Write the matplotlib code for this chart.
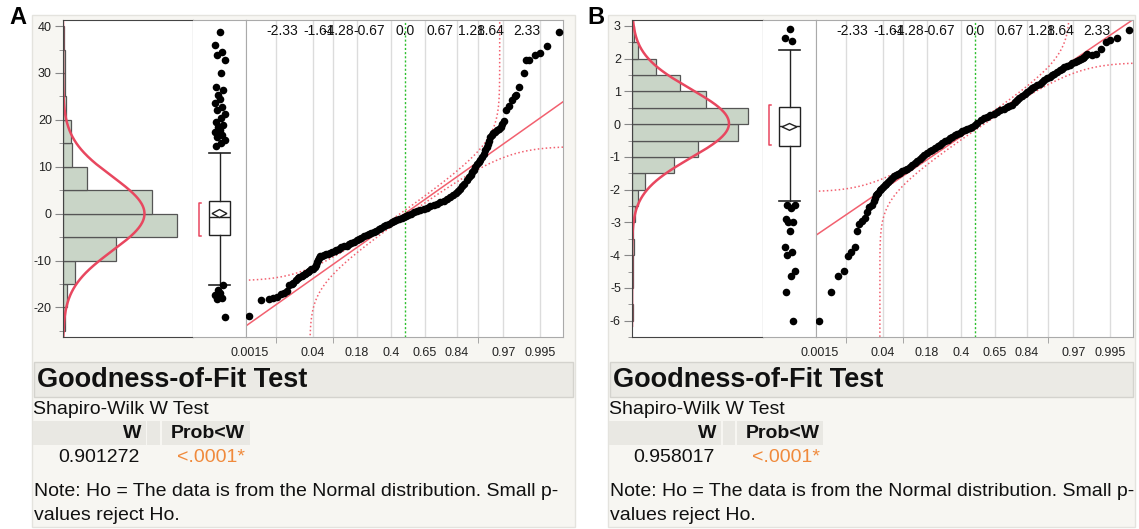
import numpy as np
import matplotlib
matplotlib.use("Agg")
import matplotlib.pyplot as plt
from matplotlib.patches import Rectangle, Polygon
from statistics import NormalDist

plt.rcParams['font.family'] = ['Liberation Sans', 'DejaVu Sans']
plt.rcParams['axes.unicode_minus'] = False

W, H = 1139, 529

# ---------------- panel A data ----------------
a_edges = [-25, -20, -15, -10, -5, 0, 5, 10, 15, 20, 25, 30, 35, 40]
a_counts = [3, 6, 18, 80, 171, 133, 36, 13, 12, 5, 3, 3, 1]
a_ylim = (-26.3, 41.3)
a_yticks = [-20, -10, 0, 10, 20, 30, 40]
a_mean, a_sd = 0.0, 7.9
a_box = [-4.6, -0.8, 2.7, -15.3, 13.0]          # q1, median, q3, whisker lo, whisker hi
a_mean_ci = [0.03, 0.85]
a_short_half = [-4.83, 2.35]
a_outliers = [38.7, 35.9, 34.5, 33.8, 32.8, 29.9, 27.1, 26.4, 25.2, 24.5, 23.5, 22.7,
              22.2, 21.3, 20.3, 19.5, 19.0, 18.5, 17.9, 17.4, 16.8, 16.3, 15.8, 15.1,
              14.4, -15.3, -16.3, -16.9, -17.4, -17.9, -18.3, -22.0]
# normal quantile (x) and value (y) of the points
a_qz = [-2.97, -2.75, -2.60, -2.52, -2.44, -2.37, -2.31, -2.25, -2.20, -2.16, -2.13,
        -2.07, -2.04, -2.01, -1.97, -1.94, -1.91, -1.88, -1.85, -1.82, -1.78, -1.75,
        -1.72, -1.70, -1.68, -1.66, -1.63, -1.61, -1.58, -1.55, -1.50, -1.46, -1.42,
        -1.38, -1.34, -1.31, -1.26, -1.21, -1.16, -1.11, -1.06, -1.02, -0.97, -0.92,
        -0.88, -0.83, -0.78, -0.73, -0.69, -0.64, -0.59, -0.54, -0.50, -0.45, -0.40,
        -0.35, -0.30, -0.25, -0.21, -0.16, -0.11, -0.06, -0.02, 0.02, 0.06, 0.11,
        0.17, 0.24, 0.30, 0.36, 0.42, 0.49, 0.55, 0.62, 0.68, 0.75, 0.81, 0.87, 0.92,
        0.97, 1.02, 1.06, 1.10, 1.14, 1.18, 1.22, 1.26, 1.29, 1.32, 1.35, 1.38, 1.41,
        1.44, 1.48, 1.51, 1.54, 1.57, 1.59, 1.61, 1.63, 1.66, 1.69, 1.72, 1.76, 1.80,
        1.83, 1.86, 1.89, 1.94, 1.99, 2.05, 2.10, 2.13, 2.18, 2.27, 2.32, 2.37, 2.48,
        2.58, 2.71, 2.94]
a_qy = [-21.9, -18.5, -18.3, -17.9, -17.8, -17.2, -16.9, -16.5, -15.3, -15.0, -14.8,
        -14.1, -13.8, -13.5, -13.3, -13.1, -12.9, -12.7, -12.4, -12.2, -11.9, -11.7,
        -11.3, -11.0, -10.4, -9.8, -9.4, -9.1, -9.0, -8.9, -8.7, -8.5, -8.35,
        -8.2, -8.0, -7.8, -7.5, -7.2, -7.0, -6.8, -6.55, -6.3, -6.0, -5.7,
        -5.4, -5.1, -4.85, -4.6, -4.35, -4.1, -3.85, -3.6, -3.3, -3.0, -2.7,
        -2.4, -2.1, -1.8, -1.55, -1.3, -1.1, -0.9, -0.75, -0.6, -0.3, 0.0,
        0.3, 0.57, 0.8, 1.07, 1.3, 1.6, 1.85, 2.1, 2.4, 2.8, 3.2, 3.6, 4.0,
        4.4, 4.85, 5.3, 5.8, 6.4, 7.1, 7.8, 8.3, 8.9, 9.4, 10.0, 10.5, 11.0,
        11.5, 12.1, 12.8, 13.5, 14.2, 14.9, 15.6, 16.3, 16.7, 17.1, 17.4, 17.8, 18.1,
        18.5, 19.1, 19.8, 22.2, 22.9, 24.2, 25.0, 25.3, 27.0, 29.9, 32.7, 32.7, 33.9,
        34.3, 35.8, 38.7]
a_w = "0.901272"
a_p = "<.0001*"

# ---------------- panel B data ----------------
b_edges = [-6, -5.5, -5, -4.5, -4, -3.5, -3, -2.5, -2, -1.5, -1, -0.5, 0, 0.5, 1, 1.5,
           2, 2.5, 3]
b_counts = [1, 0, 1, 2, 3, 1, 4, 9, 20, 62, 98, 158, 172, 110, 71, 36, 9, 3]
b_ylim = (-6.16, 3.18)
b_yticks = [-6, -5, -4, -3, -2, -1, 0, 1, 2, 3]
b_mean, b_sd = 0.02, 1.05
b_box = [-0.53, 0.06, 0.62, -2.16, 2.31]
b_mean_ci = [0.03, 0.1]
b_short_half = [-0.51, 0.67]
b_outliers = [2.91, 2.66, 2.56, -2.26, -2.28, -2.36, -2.68, -2.76, -2.76, -3.05, -3.51,
              -3.66, -3.74, -4.23, -4.37, -4.84, -5.68]
b_qz = [-2.97, -2.75, -2.61, -2.50, -2.42, -2.36, -2.29, -2.25, -2.20, -2.15, -2.10,
        -2.06, -2.02, -1.97, -1.93, -1.91, -1.89, -1.87, -1.85, -1.81, -1.78, -1.75,
        -1.72, -1.69, -1.66, -1.61, -1.57, -1.54, -1.50, -1.46, -1.42, -1.38, -1.34,
        -1.29, -1.24, -1.20, -1.15, -1.10, -1.05, -1.00, -0.96, -0.91, -0.86, -0.81,
        -0.76, -0.71, -0.67, -0.62, -0.57, -0.52, -0.48, -0.43, -0.38, -0.33, -0.29,
        -0.24, -0.19, -0.14, -0.10, -0.05, 0.00, 0.05, 0.11, 0.17, 0.24, 0.30, 0.36,
        0.42, 0.49, 0.55, 0.62, 0.66, 0.71, 0.76, 0.81, 0.85, 0.90, 0.95, 1.00, 1.05,
        1.10, 1.14, 1.19, 1.24, 1.29, 1.33, 1.38, 1.43, 1.48, 1.52, 1.57, 1.62, 1.67,
        1.71, 1.76, 1.81, 1.86, 1.91, 1.96, 1.99, 2.03, 2.06, 2.08, 2.12, 2.15, 2.24,
        2.32, 2.40, 2.50, 2.59, 2.72, 2.94]
b_qy = [-5.68, -4.84, -4.37, -4.23, -3.76, -3.66, -3.51, -3.05, -2.82, -2.73, -2.66,
        -2.48, -2.33, -2.26, -2.14, -2.06, -1.99, -1.95, -1.91, -1.84, -1.79, -1.74,
        -1.69, -1.64, -1.59, -1.53, -1.48, -1.43, -1.38, -1.35, -1.32, -1.28, -1.25,
        -1.20, -1.15, -1.08, -1.02, -0.97, -0.91, -0.85, -0.79, -0.74, -0.69, -0.64,
        -0.59, -0.54, -0.49, -0.44, -0.39, -0.35, -0.30, -0.26, -0.22, -0.18, -0.14,
        -0.10, -0.07, -0.03, 0.0, 0.04, 0.08, 0.15, 0.23, 0.28, 0.32, 0.37, 0.42,
        0.47, 0.52, 0.57, 0.62, 0.65, 0.69, 0.75, 0.82, 0.88, 0.94, 1.00, 1.06, 1.12,
        1.18, 1.22, 1.26, 1.30, 1.34, 1.40, 1.46, 1.51, 1.56, 1.60, 1.65, 1.70, 1.75,
        1.79, 1.83, 1.86, 1.90, 1.93, 1.97, 2.00, 2.03, 2.06, 2.10, 2.14, 2.17, 2.15,
        2.19, 2.34, 2.52, 2.58, 2.64, 2.90]
b_w = "0.958017"
b_p = "<.0001*"

# shared axis labels of the normal quantile plot
quant_labels = [-2.33, -1.64, -1.28, -0.67, 0.0, 0.67, 1.28, 1.64, 2.33]
prob_labels = [0.0015, 0.04, 0.18, 0.4, 0.65, 0.84, 0.97, 0.995]
prob_grid = [0.007, 0.04, 0.085, 0.18, 0.4, 0.65, 0.84, 0.92, 0.97, 0.995]
band_d = 0.035

RED = '#e8475f'
LRED = '#f2606f'
HIST = '#c9d5c7'
nd = NormalDist()


def px_axes(fig, x0, y0, x1, y1):
    return fig.add_axes([x0 / W, 1 - y1 / H, (x1 - x0) / W, (y1 - y0) / H])


def draw_plots(fig, xh, xb, xq, xe, edges, counts, ylim, yticks, mean, sd,
               box, mean_ci, short_half, outliers, qz, qy, minor_step):
    top, bot = 20, 337
    # histogram
    ax = px_axes(fig, xh, top, xb, bot)
    edges = np.array(edges, dtype=float)
    bw = edges[1] - edges[0]
    centers = (edges[:-1] + edges[1:]) / 2
    ax.barh(centers, counts, height=bw, left=0, color=HIST, edgecolor='#555555',
            linewidth=0.9)
    yy = np.linspace(ylim[0], ylim[1], 500)
    n = sum(counts)
    cx = n * bw / (sd * np.sqrt(2 * np.pi)) * np.exp(-(yy - mean) ** 2 / (2 * sd ** 2))
    ax.plot(cx, yy, color=RED, lw=1.8)
    ax.set_xlim(0, 195)
    ax.set_ylim(*ylim)
    ax.set_xticks([])
    ax.set_yticks(yticks)
    ax.set_yticks(np.arange(yticks[0] - minor_step, ylim[1], minor_step), minor=True)
    ax.tick_params(axis='y', which='major', length=6, color='#888888', labelsize=9,
                   pad=2, labelcolor='#222222')
    ax.tick_params(axis='y', which='minor', length=3, color='#888888')
    for s in ax.spines.values():
        s.set_color('#444444')

    # box plot
    axb = px_axes(fig, xb, top, xq, bot)
    axb.set_xlim(0, 1)
    axb.set_ylim(*ylim)
    axb.bxp([dict(q1=box[0], med=box[1], q3=box[2], whislo=box[3], whishi=box[4],
                  fliers=[])], positions=[0.5], widths=0.4, capwidths=0.4,
            showfliers=False, patch_artist=True, manage_ticks=False,
            boxprops=dict(facecolor='white', edgecolor='#222222', lw=1),
            medianprops=dict(color='#222222', lw=1),
            whiskerprops=dict(color='#222222', lw=1),
            capprops=dict(color='#222222', lw=1.2))
    m, ci = mean_ci
    axb.add_patch(Polygon([(0.36, m), (0.5, m + ci), (0.64, m), (0.5, m - ci)],
                          closed=True, fc='white', ec='#222222', lw=1, zorder=4))
    axb.plot([0.16, 0.12, 0.12, 0.16], [short_half[1], short_half[1], short_half[0],
                                        short_half[0]], color=RED, lw=1.1)
    jit = [0.0, -0.09, 0.05, -0.04, 0.1, 0.02, -0.07, 0.07, -0.02]
    ox = [0.5 + jit[i % len(jit)] for i in range(len(outliers))]
    axb.scatter(ox, outliers, s=30, color='black', zorder=5, linewidths=0)
    axb.set_xticks([])
    axb.set_yticks([])
    axb.spines['left'].set_visible(False)
    for k in ['top', 'bottom', 'right']:
        axb.spines[k].set_color('#aaaaaa')

    # normal quantile plot
    axq = px_axes(fig, xq, top, xe, bot)
    zl = (-3.03, 3.02)
    axq.set_xlim(*zl)
    axq.set_ylim(*ylim)
    for p in prob_grid:
        axq.axvline(nd.inv_cdf(p), color='#dcdcdc', lw=1, zorder=0)
    axq.axvline(0, color='#2ec02e', lw=1, ls=(0, (1.5, 1.5)), zorder=1)
    zz = np.array(zl)
    axq.plot(zz, mean + sd * zz, color=LRED, lw=1.1, zorder=2)
    q = np.linspace(-8, 8, 3000)
    cq = np.array([nd.cdf(v) for v in q])
    mu = (cq - band_d > 1e-15)
    zu = np.array([nd.inv_cdf(p) for p in cq[mu] - band_d])
    axq.plot(zu, mean + sd * q[mu], color=LRED, lw=1.1, ls=(0, (1, 1.6)), zorder=2)
    ml = (cq + band_d < 1 - 1e-15)
    zlw = np.array([nd.inv_cdf(p) for p in cq[ml] + band_d])
    axq.plot(zlw, mean + sd * q[ml], color=LRED, lw=1.1, ls=(0, (1, 1.6)), zorder=2)
    axq.scatter(qz, qy, s=30, color='black', zorder=3, linewidths=0)
    tr = axq.get_xaxis_transform()
    for v in quant_labels:
        axq.text(v, 1 - 11 / (bot - top), f"{v:.2f}" if v != 0 else "0.0",
                 transform=tr, ha='center', va='center', fontsize=10,
                 color='#111111', zorder=4)
    axq.set_xticks([nd.inv_cdf(p) for p in prob_labels])
    axq.set_xticklabels([f"{p:g}" for p in prob_labels])
    axq.set_xticks([nd.inv_cdf(p) for p in prob_grid], minor=True)
    axq.tick_params(axis='x', which='major', length=0, labelsize=9, pad=7,
                    labelcolor='#222222')
    axq.tick_params(axis='x', which='minor', length=4, color='#999999')
    axq.set_yticks([])
    for s in axq.spines.values():
        s.set_color('#aaaaaa')


def draw_text(bg, x0, x1, label, lx, wtxt, ptxt, cells):
    fs = 14.0
    bg.text(lx, 18, label, fontsize=17, fontweight='bold', ha='left', va='center')
    bg.add_patch(Rectangle((x0 + 2, 362), x1 - x0 - 4, 35, fc='#ebeae5', ec='#d4d3ce',
                           lw=1))
    bg.text(x0 + 5, 380, "Goodness-of-Fit Test", fontsize=19.5, fontweight='bold',
            va='center', ha='left', color='#111111')
    bg.text(x0 + 1, 410, "Shapiro-Wilk W Test", fontsize=fs, va='center', ha='left',
            color='#111111')
    for cx0, cx1 in cells:
        bg.add_patch(Rectangle((cx0, 421), cx1 - cx0, 24, fc='#e9e8e3', ec='none'))
    bg.text(cells[0][1] - 5, 433, "W", fontsize=fs, fontweight='bold', ha='right',
            va='center', color='#111111')
    bg.text(cells[2][0] + 9, 433, "Prob<W", fontsize=fs, fontweight='bold',
            ha='left', va='center', color='#111111')
    bg.text(cells[0][1] - 6, 458, wtxt, fontsize=fs, ha='right', va='center',
            color='#111111')
    bg.text(cells[2][0] + 15, 458, ptxt, fontsize=fs, ha='left', va='center',
            color='#f08a3c')
    bg.text(x0 + 2, 492, "Note: Ho = The data is from the Normal distribution. Small p-",
            fontsize=fs, ha='left', va='center', color='#111111')
    bg.text(x0 + 2, 516, "values reject Ho.", fontsize=fs, ha='left', va='center',
            color='#111111')


fig = plt.figure(figsize=(W / 100, H / 100), dpi=100)
bg = fig.add_axes([0, 0, 1, 1])
bg.set_xlim(0, W)
bg.set_ylim(H, 0)
bg.axis('off')
bg.add_patch(Rectangle((32, 15), 543, 512, fc='#f7f6f2', ec='#e4e3de', lw=1))
bg.add_patch(Rectangle((608, 15), 527, 512, fc='#f7f6f2', ec='#e4e3de', lw=1))

draw_text(bg, 32, 575, "A", 9, a_w, a_p, [(33, 146), (147, 160), (162, 250)])
draw_text(bg, 608, 1135, "B", 587, b_w, b_p, [(609, 721), (723, 735), (737, 823)])

draw_plots(fig, 63, 193, 246, 563, a_edges, a_counts, a_ylim, a_yticks, a_mean, a_sd,
           a_box, a_mean_ci, a_short_half, a_outliers, a_qz, a_qy, 5)
draw_plots(fig, 632, 763, 816, 1133, b_edges, b_counts, b_ylim, b_yticks, b_mean, b_sd,
           b_box, b_mean_ci, b_short_half, b_outliers, b_qz, b_qy, 0.5)

fig.savefig("out.png", dpi=100)
